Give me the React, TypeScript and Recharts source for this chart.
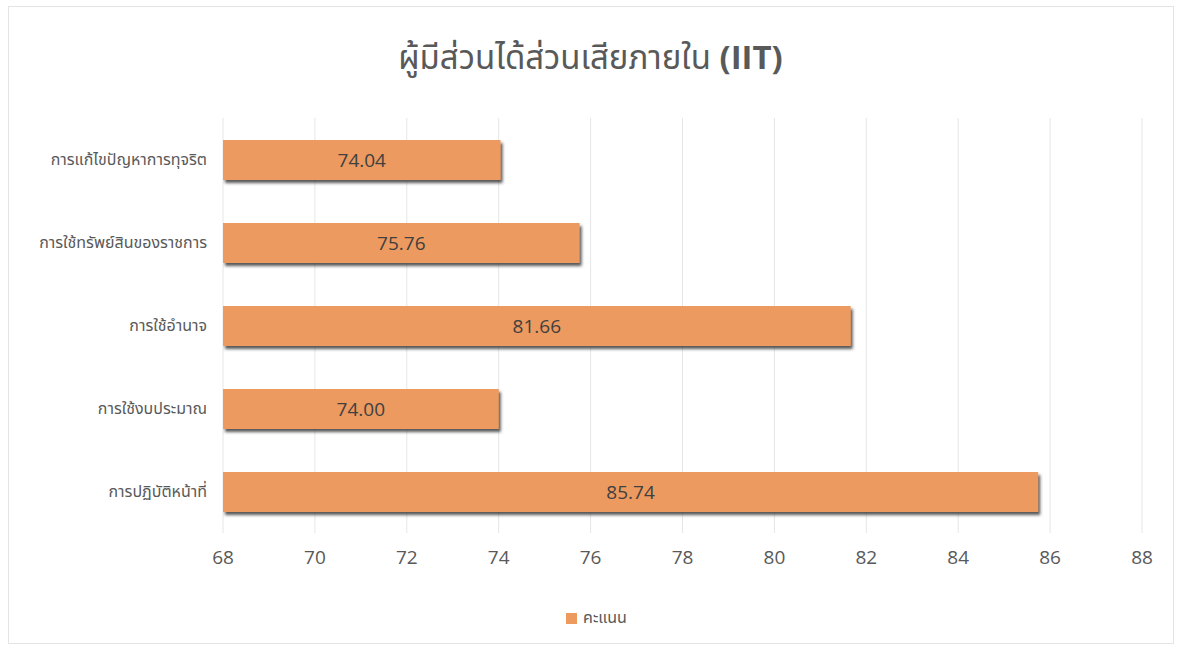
import { BarChart, Bar, XAxis, YAxis, CartesianGrid, LabelList } from 'recharts'

const categories = ['การแก้ไขปัญหาการทุจริต', 'การใช้ทรัพย์สินของราชการ', 'การใช้อำนาจ', 'การใช้งบประมาณ', 'การปฏิบัติหน้าที่']
const scores = [74.04, 75.76, 81.66, 74.0, 85.74]
const xTicks = [68, 70, 72, 74, 76, 78, 80, 82, 84, 86, 88]

const ORANGE = '#EC9A5E'
const FONT = '"Open Sans", "Noto Sans", "Noto Sans Thai", sans-serif'

const data = categories.map((name, i) => ({ name, score: scores[i] }))

// bar with a soft dark shadow at the lower right, like the Excel source
function ShadowBar(props: any) {
  const { x, y, width, height } = props
  if (width == null || height == null) return null
  return <rect x={x} y={y} width={width} height={height} fill={ORANGE} filter="url(#barShadow)" />
}

export default function App() {
  return (
    <div style={{ position: 'absolute', left: 0, top: 0, width: 1181, height: 650, background: '#fff', fontFamily: FONT }}>
      <div style={{ position: 'absolute', left: 8, top: 6, width: 1164, height: 636, border: '1px solid #e4e4e4' }} />
      <div style={{ position: 'absolute', left: 0, top: 34, width: 1181, textAlign: 'center', fontSize: 33, color: '#595959' }}>
        ผู้มีส่วนได้ส่วนเสียภายใน <b>(IIT)</b>
      </div>
      <BarChart
        width={1181}
        height={590}
        data={data}
        layout="vertical"
        barSize={40}
        margin={{ top: 118, right: 39, bottom: 0, left: 0 }}
        style={{ position: 'absolute', left: 0, top: 0 }}
      >
        <defs>
          <filter id="barShadow" x="-5%" y="-20%" width="115%" height="160%">
            <feDropShadow dx="2" dy="3" stdDeviation="1.5" floodColor="#3a3a3a" floodOpacity="0.85" />
          </filter>
        </defs>
        <CartesianGrid horizontal={false} stroke="#e6e6e6" />
        <XAxis
          type="number"
          domain={[68, 88]}
          ticks={xTicks}
          allowDataOverflow
          axisLine={false}
          tickLine={false}
          tick={{ fontSize: 19, fill: '#595959', fontFamily: FONT }}
          tickMargin={12}
          height={57}
        />
        <YAxis
          type="category"
          dataKey="name"
          width={223}
          axisLine={false}
          tickLine={false}
          tick={{ fontSize: 16, fill: '#595959', fontFamily: FONT }}
          tickMargin={10}
        />
        <Bar dataKey="score" fill={ORANGE} shape={ShadowBar} isAnimationActive={false}>
          <LabelList dataKey="score" position="center" formatter={(v: any) => Number(v).toFixed(2)} fill="#404040" fontSize={19} fontFamily={FONT} />
        </Bar>
      </BarChart>
      <div style={{ position: 'absolute', left: 0, top: 606, width: 1181, display: 'flex', justifyContent: 'center', alignItems: 'center', fontSize: 16, color: '#595959' }}>
        <span style={{ display: 'inline-block', width: 11, height: 11, background: ORANGE, marginRight: 6, marginLeft: 12 }} />
        คะแนน
      </div>
    </div>
  )
}
